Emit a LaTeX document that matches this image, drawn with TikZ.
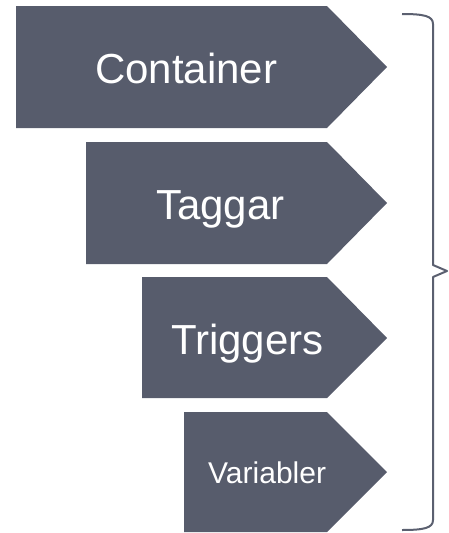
\documentclass[tikz,border=0pt]{standalone}
\usepackage{fontspec}
\setmainfont{Liberation Sans}
\definecolor{slate}{HTML}{575C6C}
\definecolor{bracecol}{HTML}{5B6070}
\tikzset{
  arrowshape/.style={fill=slate},
  lbl/.style={text=white, inner sep=0pt, anchor=base west},
  big/.style={font=\fontsize{42}{50}\selectfont},
  small/.style={font=\fontsize{30}{36}\selectfont},
  bracestyle/.style={draw=bracecol, line width=2pt, line join=round}
}
\begin{document}
\begin{tikzpicture}[x=1pt,y=-1pt]
\useasboundingbox (0,0) rectangle (449,533);
% arrow shapes
\fill[arrowshape] (16,6) -- (327,6) -- (387,67) -- (327,128) -- (16,128) -- cycle;
\fill[arrowshape] (86,142) -- (327,142) -- (387,203) -- (327,264) -- (86,264) -- cycle;
\fill[arrowshape] (142,277) -- (327,277) -- (387,338) -- (327,398) -- (142,398) -- cycle;
\fill[arrowshape] (184,412) -- (327,412) -- (387,472) -- (327,532) -- (184,532) -- cycle;
% labels
\node[lbl,big] (container) at (95,83) {Container};
\node[lbl,big] (taggar) at (156,219) {Taggar};
\node[lbl,big] (triggers) at (171,354) {Triggers};
\node[lbl,small] (variabler) at (208,483) {Variabler};
% brace
\coordinate (btop) at (402,14);
\coordinate (btip) at (447,271);
\coordinate (bbot) at (402,530);
\draw[bracestyle] (btop) .. controls (424,14) and (433,16) .. (433,24)
  -- (433,265) -- (btip) -- (433,277) -- (433,520)
  .. controls (433,528) and (424,530) .. (bbot);
\end{tikzpicture}
\end{document}
